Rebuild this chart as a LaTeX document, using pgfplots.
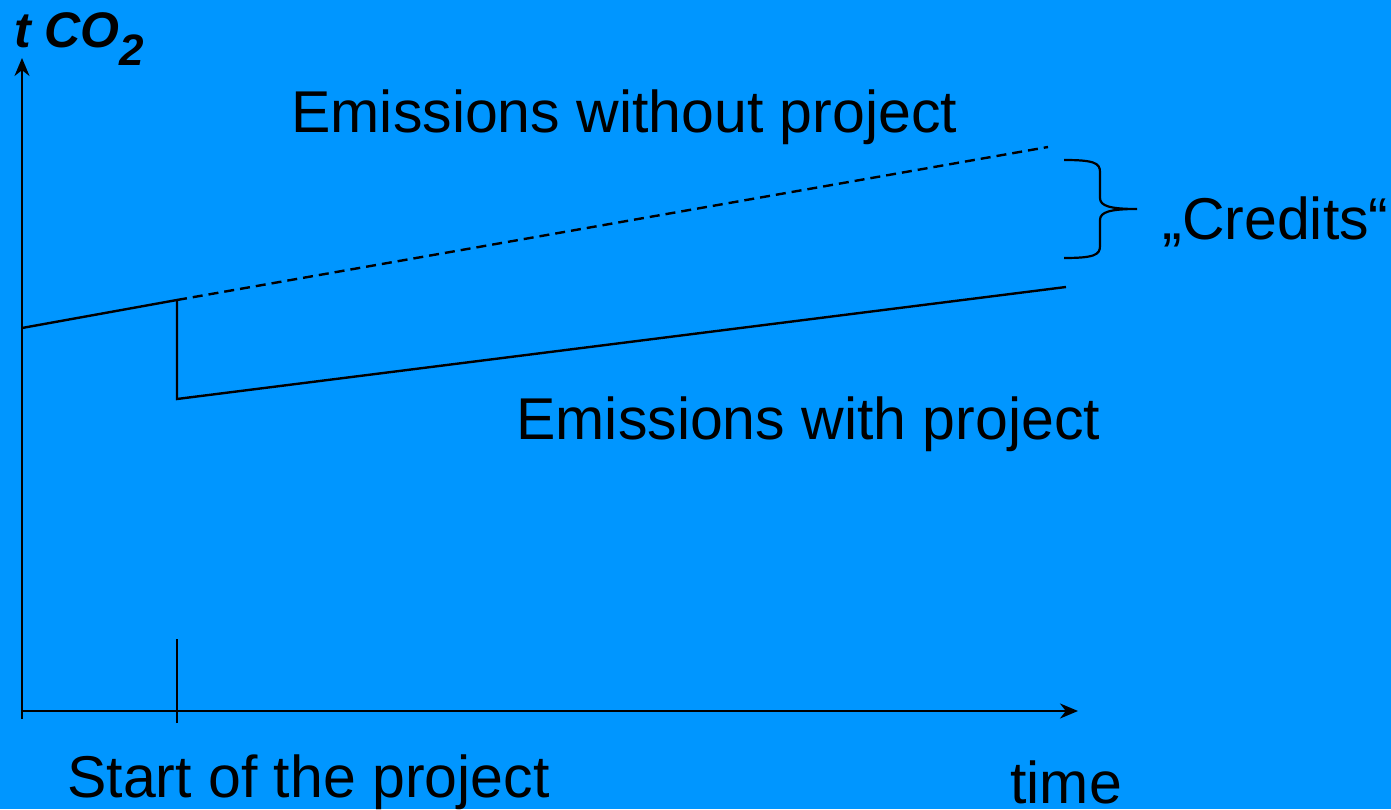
\documentclass[border=0pt]{standalone}
\usepackage{pgfplots}
\pgfplotsset{compat=1.18}
\usepackage{fontspec}
\setmainfont{Liberation Sans}
\usetikzlibrary{arrows.meta}
\definecolor{bg}{RGB}{0,150,255}
\begin{document}
\begin{tikzpicture}
\fill[bg] (0,0) rectangle (695.5pt,404.5pt);
\begin{axis}[at={(0,0)},anchor=south west,
  width=695.5pt,height=404.5pt,scale only axis,
  xmin=0,xmax=1391,ymin=0,ymax=809,
  hide axis, clip=false]
% axes
\addplot[black, line width=1.2pt, -{Stealth[length=9pt,width=7.5pt]}] coordinates {(22,90) (22,751)};
\addplot[black, line width=1.2pt, -{Stealth[length=9pt,width=7.5pt]}] coordinates {(22,98) (1078,98)};
\addplot[black, line width=1.2pt] coordinates {(177,86) (177,170)};
% emissions without project (before start)
\addplot[black, line width=1.2pt] coordinates {(22,481) (177,509)};
% baseline continuation (dashed)
\addplot[black, line width=1.2pt, dash pattern=on 5pt off 3pt] coordinates {(177,509) (1048,662)};
% emissions with project
\addplot[black, line width=1.2pt] coordinates {(177,509) (177,410) (1066,522)};
% brace
\draw[black, line width=1.1pt] (axis cs:1064,649) .. controls (axis cs:1094,649) and (axis cs:1100,646) .. (axis cs:1100,637)
  -- (axis cs:1100,611) .. controls (axis cs:1100,603) and (axis cs:1110,600) .. (axis cs:1137,600)
  .. controls (axis cs:1110,600) and (axis cs:1100,597) .. (axis cs:1100,589)
  -- (axis cs:1100,563) .. controls (axis cs:1100,554) and (axis cs:1094,551) .. (axis cs:1064,551);
% texts
\node[anchor=base west, inner sep=0pt] at (axis cs:14,761) {\fontsize{25}{30}\selectfont\bfseries\itshape t CO\raisebox{-9pt}{\fontsize{22}{26}\selectfont 2}};
\node[anchor=base west, inner sep=0pt, font=\fontsize{29.5}{35}\selectfont] at (axis cs:291,676) {Emissions without project};
\node[anchor=base west, inner sep=0pt, font=\fontsize{29.5}{35}\selectfont] at (axis cs:1162,569) {„Credits“};
\node[anchor=base west, inner sep=0pt, font=\fontsize{29.5}{35}\selectfont] at (axis cs:516,369) {Emissions with project};
\node[anchor=base west, inner sep=0pt, font=\fontsize{29.5}{35}\selectfont] at (axis cs:67,12) {Start of the project};
\node[anchor=base west, inner sep=0pt, font=\fontsize{29.5}{35}\selectfont] at (axis cs:1010,6) {time};
\end{axis}
\pgfresetboundingbox
\useasboundingbox (0,0) rectangle (695.5pt,404.5pt);
\end{tikzpicture}
\end{document}
